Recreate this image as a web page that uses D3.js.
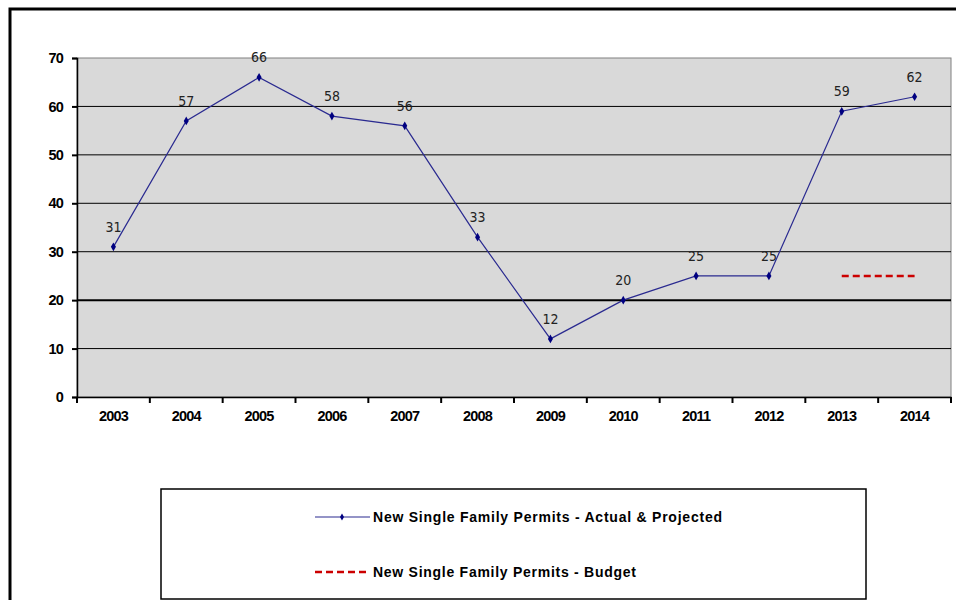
<!DOCTYPE html>
<html><head><meta charset="utf-8">
<script src="https://cdn.jsdelivr.net/npm/d3@7"></script>
<style>body{margin:0;background:#fff}svg{display:block}</style>
</head><body>
<svg id="c" width="956" height="600"></svg>
<script>
const years = ["2003","2004","2005","2006","2007","2008","2009","2010","2011","2012","2013","2014"];
const actual = [31,57,66,58,56,33,12,20,25,25,59,62];
const budgetYears = ["2013","2014"];
const budget = [25,25];
const yTicks = [0,10,20,30,40,50,60,70];
const seriesNames = ["New Single Family Permits - Actual & Projected","New Single Family Permits - Budget"];

const svg = d3.select("#c");
const L=77,R=951,T=58,B=397;
// outer border
svg.append("rect").attr("x",10).attr("y",9).attr("width",960).attr("height",620)
  .attr("fill","none").attr("stroke","#000").attr("stroke-width",3);

const x = d3.scaleBand().domain(years).range([L,R]);
const y = d3.scaleLinear().domain([0,70]).range([B,T]);

svg.append("rect").attr("x",L).attr("y",T).attr("width",R-L).attr("height",B-T)
  .attr("fill","#d9d9d9").attr("stroke","#808080").attr("stroke-width",1);

// gridlines
svg.append("g").selectAll("line").data(yTicks.filter(d=>d>0&&d<70)).join("line")
  .attr("x1",L).attr("x2",R).attr("y1",d=>y(d)).attr("y2",d=>y(d))
  .attr("stroke","#000").attr("stroke-width",d=>d===20?2:1);

const axFont = "Liberation Sans, Arial";
// y axis
const ya = svg.append("g").attr("transform",`translate(${L},0)`)
  .call(d3.axisLeft(y).tickValues(yTicks).tickSize(5).tickPadding(9));
ya.select(".domain").attr("stroke","#000").attr("stroke-width",1.5);
ya.selectAll(".tick line").attr("stroke","#000").attr("stroke-width",2);
ya.selectAll("text").attr("font-family",axFont).attr("font-weight","bold")
  .attr("font-size",14.5).attr("fill","#000").attr("letter-spacing","-0.8");

// x axis
const xa = svg.append("g").attr("transform",`translate(0,${B})`)
  .call(d3.axisBottom(x).tickSize(0).tickPadding(14));
xa.select(".domain").attr("stroke","#000").attr("stroke-width",1.5);
xa.selectAll("text").attr("font-family",axFont).attr("font-weight","bold")
  .attr("font-size",14.5).attr("fill","#000").attr("letter-spacing","-0.8");
const bounds = years.map(d=>x(d)).concat([R]);
svg.append("g").selectAll("line").data(bounds).join("line")
  .attr("x1",d=>d).attr("x2",d=>d).attr("y1",B).attr("y2",B+6)
  .attr("stroke","#000").attr("stroke-width",2);

const cx = d=>x(d)+x.bandwidth()/2;
const data = years.map((d,i)=>({year:d,v:actual[i]}));
svg.append("path").datum(data)
  .attr("d",d3.line().x(d=>cx(d.year)).y(d=>y(d.v)))
  .attr("fill","none").attr("stroke","#2a2a90").attr("stroke-width",1.2);
svg.append("g").selectAll("path").data(data).join("path")
  .attr("d",d3.symbol(d3.symbolDiamond,22))
  .attr("transform",d=>`translate(${cx(d.year)},${y(d.v)})`).attr("fill","#000080");
svg.append("g").selectAll("text").data(data).join("text")
  .attr("x",d=>cx(d.year)).attr("y",d=>y(d.v)-15).attr("text-anchor","middle")
  .attr("font-family","DejaVu Sans Condensed, Liberation Sans").attr("font-size",14).attr("fill","#222")
  .text(d=>d.v);

const bdata = budgetYears.map((d,i)=>({year:d,v:budget[i]}));
svg.append("path").datum(bdata)
  .attr("d",d3.line().x(d=>cx(d.year)).y(d=>y(d.v)))
  .attr("fill","none").attr("stroke","#cc0000").attr("stroke-width",2.5).attr("stroke-dasharray","7,4");

// legend
const lg = svg.append("g");
lg.append("rect").attr("x",161).attr("y",489).attr("width",705).attr("height",110)
  .attr("fill","#fff").attr("stroke","#000").attr("stroke-width",1.5);
lg.append("line").attr("x1",315).attr("x2",370).attr("y1",517).attr("y2",517)
  .attr("stroke","#2a2a90").attr("stroke-width",1.2);
lg.append("path").attr("d",d3.symbol(d3.symbolDiamond,14)).attr("transform","translate(342,517)").attr("fill","#000080");
lg.append("line").attr("x1",315).attr("x2",370).attr("y1",572).attr("y2",572)
  .attr("stroke","#cc0000").attr("stroke-width",2.5).attr("stroke-dasharray","7,4");
const legW = [349,263];
lg.selectAll("text.l").data(seriesNames).join("text").attr("class","l")
  .attr("x",373).attr("y",(d,i)=>522+i*55)
  .attr("font-family",axFont).attr("font-weight","bold").attr("font-size",14)
  .attr("textLength",(d,i)=>legW[i]).attr("lengthAdjust","spacing")
  .attr("fill","#000").text(d=>d);
</script>
</body></html>
